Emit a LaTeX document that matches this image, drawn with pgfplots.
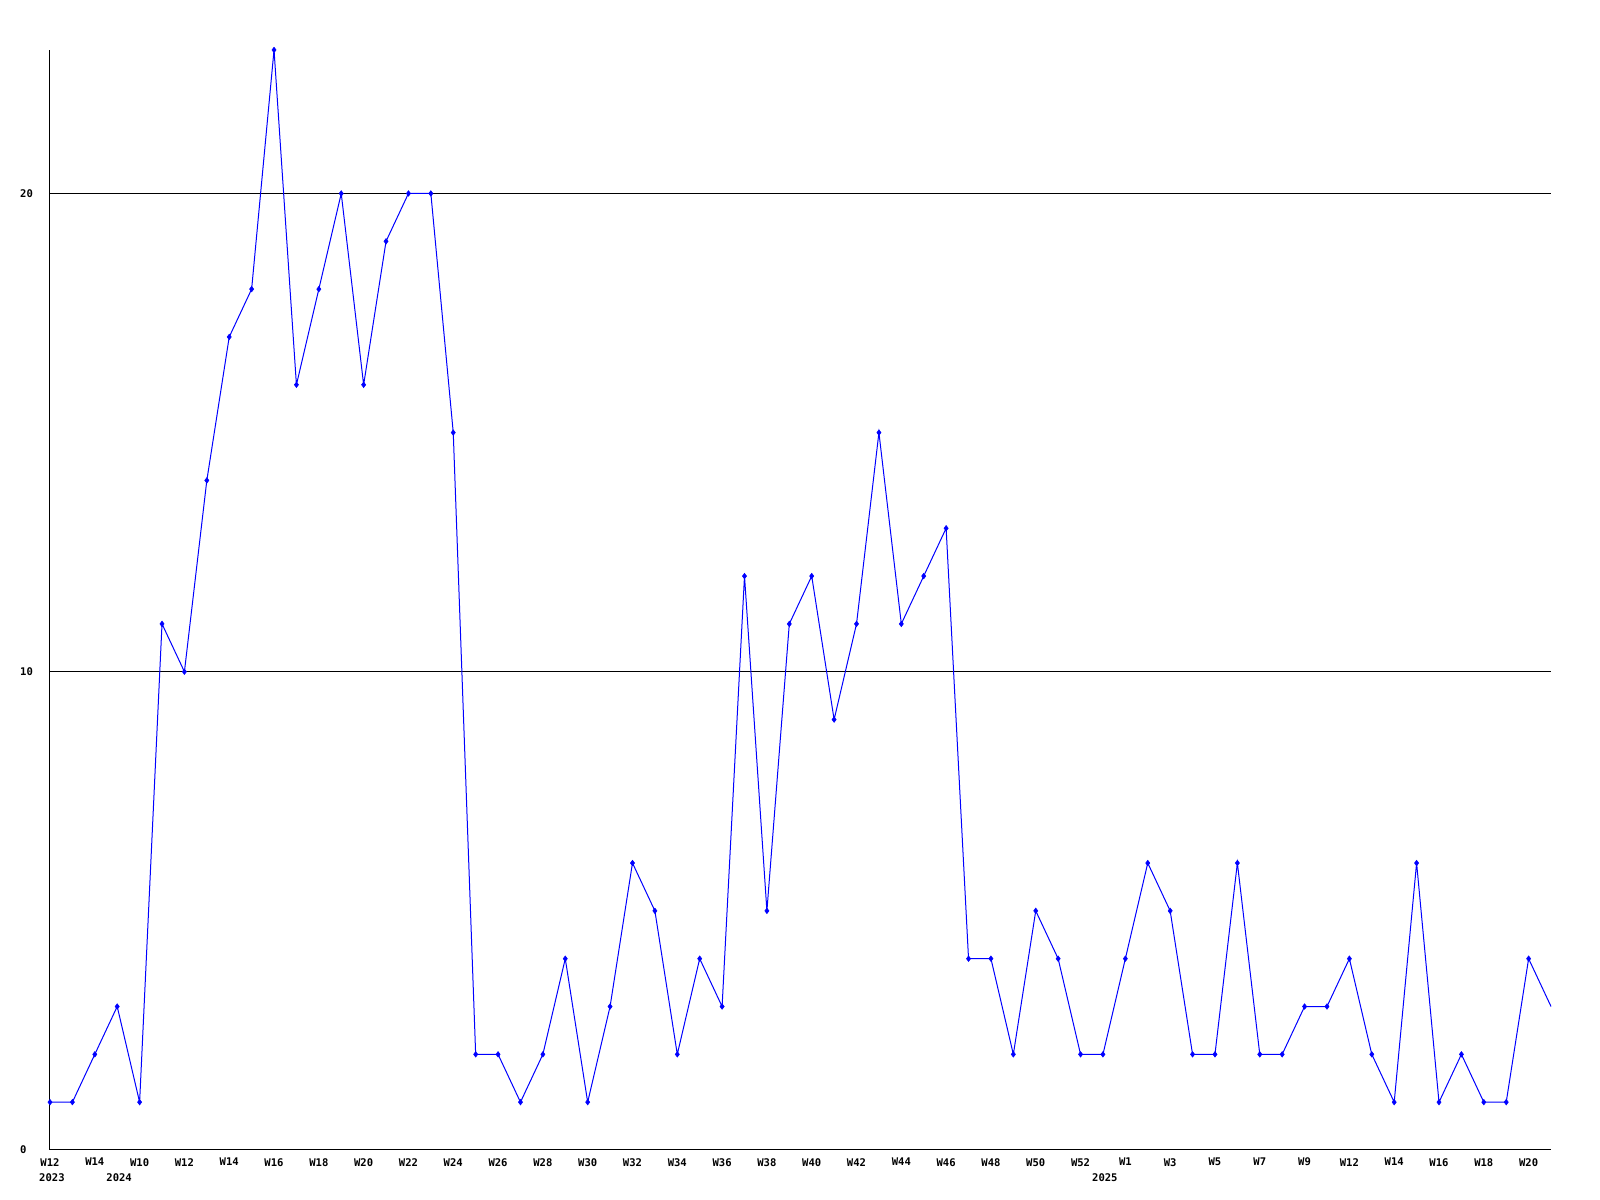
\documentclass[border=0pt]{standalone}
\usepackage{fontspec}
\setmonofont{DejaVu Sans Mono}
\usepackage{pgfplots}
\usepackage{pgfplotstable}
\pgfplotsset{compat=1.18}
\pgfplotstableread{
x y
0 1
1 1
2 2
3 3
4 1
5 11
6 10
7 14
8 17
9 18
10 23
11 16
12 18
13 20
14 16
15 19
16 20
17 20
18 15
19 2
20 2
21 1
22 2
23 4
24 1
25 3
26 6
27 5
28 2
29 4
30 3
31 12
32 5
33 11
34 12
35 9
36 11
37 15
38 11
39 12
40 13
41 4
42 4
43 2
44 5
45 4
46 2
47 2
48 4
49 6
50 5
51 2
52 2
53 6
54 2
55 2
56 3
57 3
58 4
59 2
60 1
61 6
62 1
63 2
64 1
65 1
66 4
67 3
}\datatable
\newcommand{\tickfont}{\ttfamily\bfseries\fontsize{10.6}{12}\selectfont}
\begin{document}
\begin{tikzpicture}
\begin{axis}[
  anchor=south west, at={(0,0)},
  scale only axis, width=1501bp, height=1100bp,
  xmin=0, xmax=67, ymin=0, ymax=23,
  axis lines=left, axis line style={-, black, line width=1bp},
  clip=false,
  major tick length=0pt,
  ytick={0,10,20}, yticklabels={0,10,20},
  ymajorgrids, grid style={black, line width=1bp},
  xtick={0,2,...,66},
  xticklabels={W12,W14,W10,W12,W14,W16,W18,W20,W22,W24,W26,W28,W30,W32,W34,W36,W38,W40,W42,W44,W46,W48,W50,W52,W1,W3,W5,W7,W9,W12,W14,W16,W18,W20},
  xticklabel style={font=\tickfont, anchor=north, inner sep=0pt, yshift=-8bp},
  yticklabel style={font=\tickfont, anchor=west, inner sep=0pt, xshift=-30bp},
]
\addplot[blue, line width=1bp, no marks] table[x=x,y=y] {\datatable};
\addplot[blue, only marks, mark=diamond*, mark size=2.8bp, mark options={fill=blue, draw=blue, line width=0.5bp}, skip coords between index={67}{68}] table[x=x,y=y] {\datatable};
\node[anchor=north west, inner sep=0pt, font=\tickfont, xshift=-11bp, yshift=-23bp] at (axis cs:0,0) {2023};
\node[anchor=north west, inner sep=0pt, font=\tickfont, xshift=-11bp, yshift=-23bp] at (axis cs:3,0) {2024};
\node[anchor=north west, inner sep=0pt, font=\tickfont, xshift=-11bp, yshift=-23bp] at (axis cs:47,0) {2025};
\coordinate (bl) at (rel axis cs:-0.03331,-0.04545);
\coordinate (tr) at (rel axis cs:1.03264,1.04545);
\end{axis}
\path[use as bounding box] (bl) rectangle (tr);
\end{tikzpicture}
\end{document}
